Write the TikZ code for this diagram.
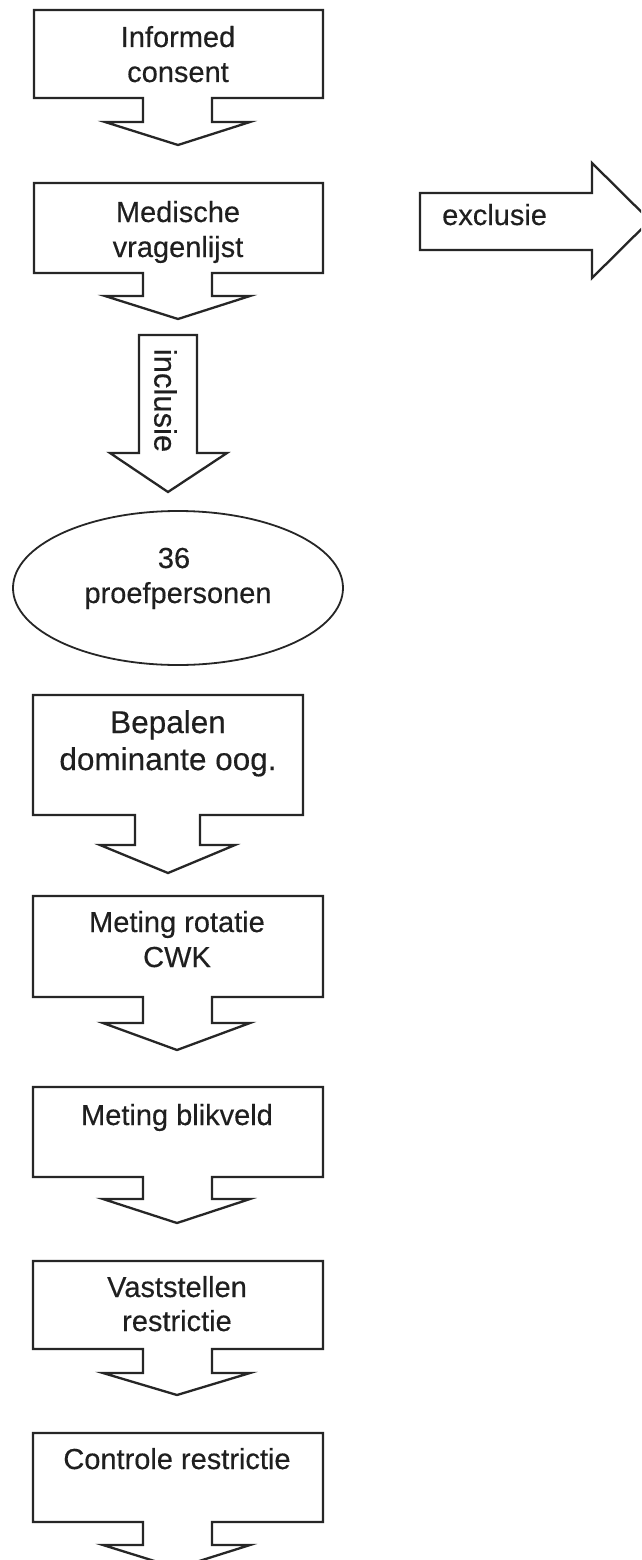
\documentclass[tikz,border=0pt]{standalone}
\usepackage{fontspec}
\setmainfont{Liberation Sans}
\newfontfamily\scanfont{Liberation Sans}[FakeBold=0.35]
\begin{document}
\begin{tikzpicture}[x=1pt,y=-1pt,
  shp/.style={draw=black!85,line width=2.3pt,line join=miter,fill=white},
  lbl/.style={inner sep=0pt,anchor=base,font=\scanfont\fontsize{29}{35}\selectfont,text=black!88},
  lblbig/.style={lbl,font=\scanfont\fontsize{31.5}{37}\selectfont}]
\clip (0,0) rectangle (641,1560);
\fill[white] (0,0) rectangle (641,1560);
% Informed consent
\draw[shp] (34,10) -- (323,10) -- (323,98) -- (212,98) -- (212,122) -- (250,122) -- (178,145) -- (105,122) -- (143,122) -- (143,98) -- (34,98) -- cycle;
\node[lbl] (t1a) at (178,47) {Informed};
\node[lbl] (t1b) at (178,82) {consent};
% Medische vragenlijst
\draw[shp] (34,183) -- (323,183) -- (323,273) -- (212,273) -- (212,296) -- (250,296) -- (178,319) -- (105,296) -- (143,296) -- (143,273) -- (34,273) -- cycle;
\node[lbl] (t2a) at (178,222) {Medische};
\node[lbl] (t2b) at (178,257) {vragenlijst};
% exclusie
\draw[shp] (420,193) -- (592,193) -- (592,163) -- (650,220.5) -- (592,278) -- (592,250) -- (420,250) -- cycle;
\node[lbl,anchor=base west] (tex) at (442,225) {exclusie};
% inclusie
\draw[shp] (139,335) -- (197,335) -- (197,453) -- (227,453) -- (168,492) -- (110,453) -- (139,453) -- cycle;
\node[lbl,anchor=center,rotate=-90,font=\scanfont\fontsize{31}{37}\selectfont] (tin) at (165.5,400.5) {inclusie};
% 36 proefpersonen
\draw[shp,line width=1.8pt] (178,588) ellipse [x radius=165,y radius=77];
\node[lbl] (t3a) at (174,568) {36};
\node[lbl] (t3b) at (178,603) {proefpersonen};
% Bepalen dominante oog.
\draw[shp] (33,695) -- (303,695) -- (303,815) -- (200,815) -- (200,845) -- (235,845) -- (168,873) -- (100,845) -- (135,845) -- (135,815) -- (33,815) -- cycle;
\node[lblbig] (t4a) at (168,733) {Bepalen};
\node[lblbig] (t4b) at (168,770) {dominante oog.};
% Meting rotatie CWK
\draw[shp] (33,896) -- (323,896) -- (323,997) -- (212,997) -- (212,1023) -- (250,1023) -- (177,1050) -- (103,1023) -- (143,1023) -- (143,997) -- (33,997) -- cycle;
\node[lbl] (t5a) at (177,932) {Meting rotatie};
\node[lbl] (t5b) at (177,967) {CWK};
% Meting blikveld
\draw[shp] (33,1087) -- (323,1087) -- (323,1177) -- (212,1177) -- (212,1199) -- (250,1199) -- (177,1223) -- (103,1199) -- (143,1199) -- (143,1177) -- (33,1177) -- cycle;
\node[lbl] (t6a) at (177,1125) {Meting blikveld};
% Vaststellen restrictie
\draw[shp] (33,1261) -- (323,1261) -- (323,1349) -- (212,1349) -- (212,1373) -- (250,1373) -- (177,1395) -- (103,1373) -- (143,1373) -- (143,1349) -- (33,1349) -- cycle;
\node[lbl] (t7a) at (177,1297) {Vaststellen};
\node[lbl] (t7b) at (177,1331) {restrictie};
% Controle restrictie
\draw[shp] (33,1433) -- (323,1433) -- (323,1522) -- (212,1522) -- (212,1545) -- (250,1545) -- (177,1568) -- (103,1545) -- (143,1545) -- (143,1522) -- (33,1522) -- cycle;
\node[lbl] (t8a) at (177,1469) {Controle restrictie};
\end{tikzpicture}
\end{document}
